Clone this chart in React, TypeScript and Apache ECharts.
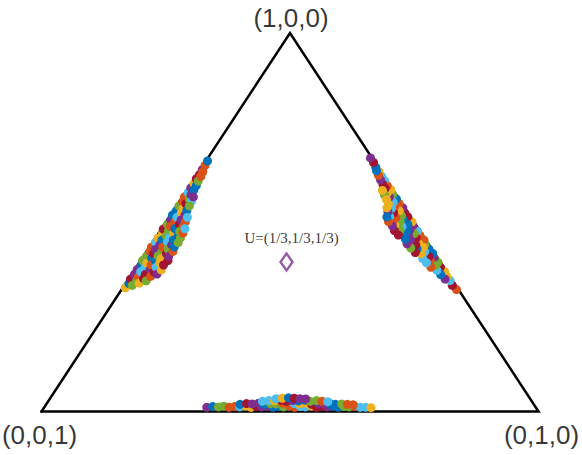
import React, { useEffect, useRef } from 'react';
import * as echarts from 'echarts';

// MATLAB-like colour order used for the sample points
const PALETTE = ['#0072BD', '#D95319', '#EDB120', '#7E2F8E', '#77AC30', '#4DBEEE', '#A2142F'];

// Simplex vertices (a, b, c): top, bottom-left, bottom-right
const VERTICES: number[][] = [[1, 0, 0], [0, 0, 1], [0, 1, 0]];

const U_LABEL = 'U=(1/3,1/3,1/3)';
// plotted position of the U marker (x, y in the triangle frame)
const U_POINT = [0.493, 0.395];

// Bottom cluster: [a, b]  (c = 1 - a - b)
const bottomCluster: number[][] = [
  [0.011, 0.327], [0.013, 0.338], [0.012, 0.350], [0.014, 0.360], [0.011, 0.372], [0.013, 0.382], [0.012, 0.393], [0.014, 0.404],
  [0.011, 0.416], [0.013, 0.426], [0.012, 0.437], [0.014, 0.448], [0.011, 0.460], [0.013, 0.470], [0.012, 0.481], [0.014, 0.492],
  [0.011, 0.504], [0.013, 0.514], [0.012, 0.525], [0.014, 0.536], [0.011, 0.548], [0.013, 0.558], [0.012, 0.569], [0.014, 0.580],
  [0.011, 0.592], [0.013, 0.602], [0.012, 0.613], [0.013, 0.624], [0.011, 0.636], [0.011, 0.647], [0.010, 0.658],
  [0.019, 0.390], [0.021, 0.402], [0.020, 0.414], [0.022, 0.426], [0.019, 0.438], [0.021, 0.450], [0.020, 0.462], [0.022, 0.474],
  [0.019, 0.486], [0.021, 0.498], [0.020, 0.510], [0.022, 0.522], [0.019, 0.534], [0.021, 0.546], [0.020, 0.558], [0.021, 0.570],
  [0.019, 0.582], [0.020, 0.594], [0.019, 0.606], [0.018, 0.618],
  [0.027, 0.431], [0.029, 0.443], [0.028, 0.455], [0.030, 0.467], [0.027, 0.479], [0.029, 0.491], [0.028, 0.503], [0.030, 0.515],
  [0.027, 0.527], [0.029, 0.539], [0.027, 0.551], [0.026, 0.563],
  [0.034, 0.455], [0.035, 0.467], [0.036, 0.479], [0.035, 0.491], [0.034, 0.503], [0.033, 0.515],
];

// Left cluster: [a, b]  (c = 1 - a - b)
const leftCluster: number[][] = [
  [0.327, 0.005], [0.338, 0.007], [0.350, 0.004], [0.362, 0.006], [0.375, 0.005], [0.386, 0.008], [0.399, 0.004], [0.410, 0.006],
  [0.423, 0.007], [0.434, 0.004], [0.447, 0.006], [0.458, 0.005], [0.471, 0.008], [0.482, 0.004], [0.495, 0.006], [0.506, 0.007],
  [0.519, 0.004], [0.530, 0.006], [0.543, 0.005], [0.554, 0.007], [0.567, 0.004], [0.578, 0.006], [0.591, 0.005], [0.602, 0.006],
  [0.615, 0.004], [0.626, 0.005], [0.639, 0.004], [0.650, 0.004], [0.662, 0.003],
  [0.333, 0.016], [0.345, 0.019], [0.356, 0.017], [0.369, 0.015], [0.381, 0.018], [0.392, 0.016], [0.405, 0.019], [0.417, 0.017],
  [0.428, 0.015], [0.441, 0.018], [0.453, 0.016], [0.464, 0.019], [0.477, 0.017], [0.489, 0.015], [0.500, 0.018], [0.513, 0.016],
  [0.525, 0.019], [0.536, 0.017], [0.549, 0.016], [0.561, 0.017], [0.572, 0.015], [0.585, 0.014],
  [0.597, 0.013], [0.609, 0.011], [0.621, 0.010], [0.633, 0.008], [0.555, 0.024], [0.567, 0.022],
  [0.339, 0.027], [0.351, 0.030], [0.362, 0.028], [0.375, 0.031], [0.387, 0.027], [0.398, 0.030], [0.411, 0.029], [0.423, 0.031],
  [0.434, 0.027], [0.447, 0.030], [0.459, 0.028], [0.470, 0.031], [0.483, 0.027], [0.495, 0.030], [0.506, 0.028], [0.519, 0.029],
  [0.531, 0.027], [0.543, 0.026],
  [0.345, 0.038], [0.357, 0.041], [0.368, 0.043], [0.381, 0.040], [0.393, 0.042], [0.404, 0.039], [0.417, 0.043], [0.429, 0.040],
  [0.440, 0.042], [0.453, 0.039], [0.465, 0.043], [0.476, 0.040], [0.489, 0.041], [0.501, 0.039], [0.513, 0.037],
  [0.363, 0.051], [0.374, 0.054], [0.387, 0.052], [0.399, 0.055], [0.410, 0.051], [0.423, 0.053], [0.435, 0.050], [0.446, 0.052],
  [0.459, 0.050], [0.471, 0.049], [0.483, 0.047],
];

// Right cluster: [a, c]  (b = 1 - a - c)
const rightCluster: number[][] = [
  [0.322, 0.004], [0.333, 0.007], [0.346, 0.005], [0.357, 0.006], [0.370, 0.004], [0.381, 0.007], [0.394, 0.005], [0.405, 0.008],
  [0.418, 0.004], [0.429, 0.006], [0.442, 0.007], [0.453, 0.004], [0.466, 0.006], [0.477, 0.005], [0.490, 0.008], [0.501, 0.004],
  [0.514, 0.006], [0.525, 0.007], [0.538, 0.004], [0.549, 0.006], [0.562, 0.005], [0.573, 0.007], [0.586, 0.004], [0.597, 0.006],
  [0.610, 0.005], [0.621, 0.005], [0.634, 0.004], [0.645, 0.005], [0.658, 0.003], [0.670, 0.003],
  [0.350, 0.013], [0.362, 0.016], [0.373, 0.018], [0.386, 0.015], [0.398, 0.019], [0.409, 0.016], [0.422, 0.018], [0.434, 0.015],
  [0.445, 0.019], [0.458, 0.017], [0.470, 0.015], [0.481, 0.018], [0.494, 0.016], [0.506, 0.019], [0.517, 0.017], [0.530, 0.015],
  [0.542, 0.018], [0.553, 0.016], [0.566, 0.017], [0.578, 0.015], [0.589, 0.014], [0.600, 0.013],
  [0.612, 0.012], [0.624, 0.010], [0.636, 0.008], [0.572, 0.024], [0.584, 0.022],
  [0.381, 0.026], [0.393, 0.029], [0.404, 0.031], [0.417, 0.028], [0.429, 0.030], [0.440, 0.027], [0.453, 0.031], [0.465, 0.029],
  [0.476, 0.027], [0.489, 0.030], [0.501, 0.028], [0.512, 0.031], [0.525, 0.029], [0.537, 0.027], [0.548, 0.028], [0.560, 0.026],
  [0.420, 0.038], [0.432, 0.041], [0.443, 0.043], [0.456, 0.040], [0.468, 0.042], [0.479, 0.039], [0.492, 0.043], [0.504, 0.041],
  [0.515, 0.042], [0.528, 0.039], [0.538, 0.036],
  [0.466, 0.049], [0.478, 0.051], [0.490, 0.049], [0.502, 0.051], [0.514, 0.048],
];

// ternary (a, b, c) -> plot frame (x, y)
const toXY = (t: number[]) => [t[1] + t[0] / 2, t[0]];

const bottomTriples = bottomCluster.map(([a, b]) => [a, b, 1 - a - b]);
const leftTriples = leftCluster.map(([a, b]) => [a, b, 1 - a - b]);
const rightTriples = rightCluster.map(([a, c]) => [a, 1 - a - c, c]);

// colour cycling for the dots (hashed index so neighbouring dots differ)
const colorFor = (seed: number) => (p: any) => {
  const h = Math.imul(p.dataIndex + seed, 2654435761) >>> 0;
  return PALETTE[(h >>> 7) % 7];
};

const clusterSeries = (name: string, triples: number[][], seed: number) => ({
  name,
  type: 'scatter',
  data: triples.map(toXY),
  symbol: 'circle',
  symbolSize: 9,
  clip: false,
  z: 3,
  itemStyle: { color: colorFor(seed), opacity: 1 },
  emphasis: { disabled: true },
});

export default function App() {
  const ref = useRef<HTMLDivElement>(null);
  useEffect(() => {
    if (!ref.current) return;
    const chart = echarts.init(ref.current, undefined, { renderer: 'svg' });
    const labelPos = [
      { position: 'top', distance: 2, offset: [1, 0] },
      { position: 'bottom', distance: 10, offset: [-2, 0] },
      { position: 'bottom', distance: 10, offset: [3, 0] },
    ];
    chart.setOption({
      animation: false,
      backgroundColor: '#ffffff',
      grid: { left: 41.5, right: 43.5, top: 33, bottom: 43.5 },
      xAxis: { type: 'value', min: 0, max: 1, show: false },
      yAxis: { type: 'value', min: 0, max: 1, show: false },
      series: [
        {
          name: 'simplex',
          type: 'line',
          data: [VERTICES[1], VERTICES[2], VERTICES[0], VERTICES[1]].map(toXY),
          symbol: 'none',
          clip: false,
          z: 1,
          lineStyle: { color: '#000', width: 2.5, join: 'miter', cap: 'square' },
          emphasis: { disabled: true },
        },
        clusterSeries('bottom', bottomTriples, 3),
        clusterSeries('left', leftTriples, 101),
        clusterSeries('right', rightTriples, 211),
        {
          name: 'vertices',
          type: 'scatter',
          symbolSize: 0,
          clip: false,
          z: 4,
          data: VERTICES.map((v, i) => ({
            value: toXY(v),
            label: {
              show: true,
              formatter: `(${v.join(',')})`,
              position: labelPos[i].position,
              distance: labelPos[i].distance,
              offset: labelPos[i].offset,
              fontFamily: 'Liberation Sans, Arial, sans-serif',
              fontSize: 26,
              color: '#000',
            },
          })),
          emphasis: { disabled: true },
        },
        {
          name: 'U',
          type: 'scatter',
          data: [U_POINT],
          symbol: 'diamond',
          symbolSize: [12, 17],
          clip: false,
          z: 5,
          itemStyle: { color: 'rgba(255,255,255,0)', borderColor: '#7E2F8E', borderWidth: 2.5 },
          label: {
            show: true,
            formatter: U_LABEL,
            position: 'top',
            distance: 7,
            offset: [5, 0],
            fontFamily: 'Liberation Serif, Times New Roman, serif',
            fontSize: 15,
            color: '#000',
          },
          emphasis: { disabled: true },
        },
      ],
    });
    return () => chart.dispose();
  }, []);
  return <div ref={ref} style={{ position: 'fixed', left: 0, top: 0, width: 582, height: 455, background: '#fff' }} />;
}
